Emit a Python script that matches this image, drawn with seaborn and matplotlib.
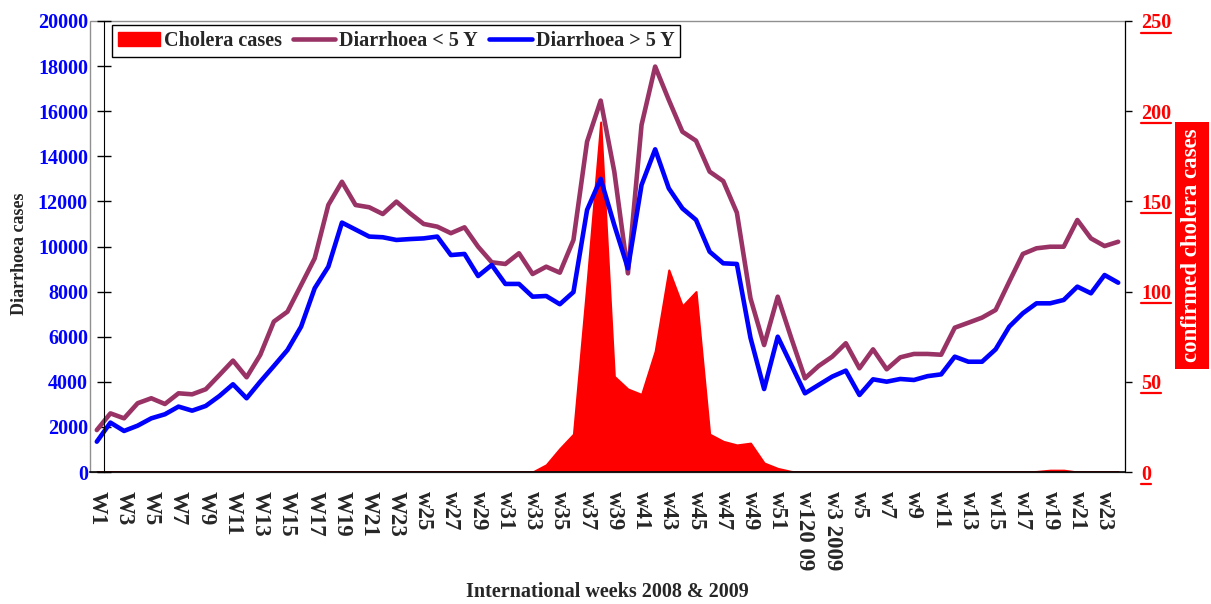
import numpy as np
import pandas as pd
import matplotlib
matplotlib.use("Agg")
import matplotlib.pyplot as plt
import seaborn as sns
from matplotlib.patches import Patch, Rectangle
from matplotlib.lines import Line2D

# weekly counts, 2008 W1 .. 2009 w24 (76 weeks)
under5 = [1860, 2600, 2380, 3050, 3270, 3015, 3490, 3445, 3670, 4300,
          4940, 4200, 5190, 6670, 7110, 8290, 9475, 11840, 12870, 11840,
          11740, 11440, 11990, 11470, 11000, 10880, 10590, 10850, 9990, 9300,
          9225, 9700, 8780, 9105, 8840, 10290, 14650, 16470, 13320, 8810,
          15390, 17980, 16500, 15090, 14690, 13320, 12900, 11500, 7700, 5630,
          7775, 5930, 4155, 4700, 5115, 5710, 4600, 5440, 4555, 5085,
          5235, 5235, 5200, 6400, 6620, 6845, 7185, 8440, 9670, 9920,
          9990, 9990, 11175, 10360, 10020, 10210]

over5 = [1345, 2190, 1820, 2055, 2380, 2560, 2900, 2720, 2930, 3370,
         3890, 3270, 4005, 4700, 5410, 6445, 8150, 9105, 11060, 10750,
         10440, 10410, 10290, 10330, 10360, 10440, 9620, 9670, 8690, 9180,
         8340, 8340, 7775, 7805, 7440, 7980, 11620, 13000, 10950, 9030,
         12730, 14310, 12580, 11690, 11180, 9770, 9255, 9225, 5950, 3680,
         6000, 4745, 3490, 3860, 4230, 4495, 3415, 4110, 4005, 4125,
         4080, 4250, 4330, 5115, 4890, 4890, 5440, 6445, 7040, 7480,
         7480, 7630, 8220, 7925, 8735, 8395]

cholera = [0, 0, 0, 0, 0, 0, 0, 0, 0, 0,
           0, 0, 0, 0, 0, 0, 0, 0, 0, 0,
           0, 0, 0, 0, 0, 0, 0, 0, 0, 0,
           0, 0, 0, 4, 13, 21, 105, 194, 53, 46,
           43, 67, 112, 92, 100, 21, 17, 15, 16, 5,
           2, 0.3, 0, 0, 0, 0, 0, 0, 0, 0,
           0, 0, 0, 0, 0, 0, 0, 0, 0, 0.3,
           1, 1, 0, 0, 0, 0]

tick_labels = ["W1", "W3", "W5", "W7", "W9", "W11", "W13", "W15", "W17", "W19",
               "W21", "W23", "w25", "w27", "w29", "w31", "w33", "w35", "w37", "w39",
               "w41", "w43", "w45", "w47", "w49", "w51", "w120 09", "w3 2009", "w5", "w7",
               "w9", "w11", "w13", "w15", "w17", "w19", "w21", "w23"]

purple = "#993366"
week = np.arange(len(under5))

df = pd.DataFrame({"week": week, "Diarrhoea < 5 Y": under5, "Diarrhoea > 5 Y": over5})
long = df.melt(id_vars="week", var_name="series", value_name="cases")

sns.set_style("white")
plt.rcParams["font.family"] = ["Liberation Serif", "DejaVu Serif"]
plt.rcParams["font.weight"] = "bold"

fig = plt.figure(figsize=(12.11, 6.04), dpi=100)
ax = fig.add_axes([90 / 1211, 1 - 472 / 604, 1035 / 1211, 451 / 604])
ax2 = ax.twinx()

# cholera area on the right axis, lines on top
ax2.fill_between(week, cholera, color="red", edgecolor="red", lw=1.5)
ax2.set_ylim(0, 250)
ax2.set_yticks(range(0, 251, 50))

sns.lineplot(data=long, x="week", y="cases", hue="series",
             palette={"Diarrhoea < 5 Y": purple, "Diarrhoea > 5 Y": "blue"},
             linewidth=3.3, legend=False, ax=ax)
for ln in ax.lines:
    ln.set_solid_joinstyle("round")

ax.set_zorder(ax2.get_zorder() + 1)
ax.patch.set_visible(False)

ax.set_xlim(-0.5, len(week) - 0.5)
ax.set_ylim(0, 20000)
ax.set_yticks(range(0, 20001, 2000))

# tick marks on week boundaries, labels on category centres
ax.set_xticks(np.arange(-0.5, len(week), 2))
ax.set_xticklabels([])
ax.set_xticks(np.arange(0, len(week), 2), minor=True)
ax.set_xticklabels(tick_labels, minor=True, fontweight="bold")
ax.tick_params(axis="x", which="major", direction="out", length=7, width=1, color="black")
ax.tick_params(axis="x", which="minor", length=0, pad=14, labelsize=16.5, labelrotation=-90)
ax.tick_params(axis="y", direction="inout", length=9.5, width=1, pad=6.5,
               labelsize=14.5, labelcolor="blue", color="black", left=True)
ax2.tick_params(axis="y", direction="out", length=5, width=1, pad=6.5,
                labelsize=14.5, labelcolor="red", color="black", right=True)
for lbl in ax.get_yticklabels() + ax2.get_yticklabels():
    lbl.set_fontweight("bold")

for sp in ["top", "right"]:
    ax.spines[sp].set_visible(False)
for sp in ["top", "left", "bottom"]:
    ax2.spines[sp].set_visible(False)
ax.spines["left"].set_position(("data", 0.5))
ax.spines["left"].set_color("black")
ax.spines["bottom"].set_color("black")
ax.spines["bottom"].set_linewidth(1.2)
ax2.spines["right"].set_color("black")
ax2.add_patch(Rectangle((0, 0), 1, 1, transform=ax2.transAxes, fill=False,
                        edgecolor="#909090", lw=1, clip_on=False))

ax.set_xlabel("International weeks 2008 & 2009", fontsize=14.5, fontweight="bold")
ax.xaxis.set_label_coords(0.5, -0.245)
ax.set_ylabel("Diarrhoea cases", fontsize=13, fontweight="bold")
ax.yaxis.set_label_coords(-0.060, 0.483)

ax2.set_ylabel("confirmed cholera cases", fontsize=16.5, fontweight="bold", color="white",
               bbox=dict(boxstyle="square,pad=0.3", fc="red", ec="none"))
ax2.yaxis.label.set_va("center")
ax2.yaxis.set_label_coords(1.0647, 0.502)

handles = [Patch(facecolor="red", edgecolor="red", label="Cholera cases"),
           Line2D([], [], color=purple, lw=3.3, label="Diarrhoea < 5 Y"),
           Line2D([], [], color="blue", lw=3.3, label="Diarrhoea > 5 Y")]
leg = ax.legend(handles=handles, ncol=3, loc="upper left", bbox_to_anchor=(0.021, 0.991),
                borderaxespad=0, fancybox=False, edgecolor="black", framealpha=1,
                prop={"size": 14.5, "weight": "bold"}, handlelength=2.1,
                handletextpad=0.2, columnspacing=0.55, borderpad=0.3)
leg.get_frame().set_linewidth(1)

# underline the right-hand tick labels
fig.canvas.draw()
renderer = fig.canvas.get_renderer()
W, H = fig.bbox.width, fig.bbox.height
for lbl in ax2.get_yticklabels():
    bb = lbl.get_window_extent(renderer)
    y = (bb.y0 + 1) / H
    fig.add_artist(Line2D([bb.x0 / W, bb.x1 / W], [y, y], color="red", lw=1.6))

fig.savefig("out.png", dpi=100)
